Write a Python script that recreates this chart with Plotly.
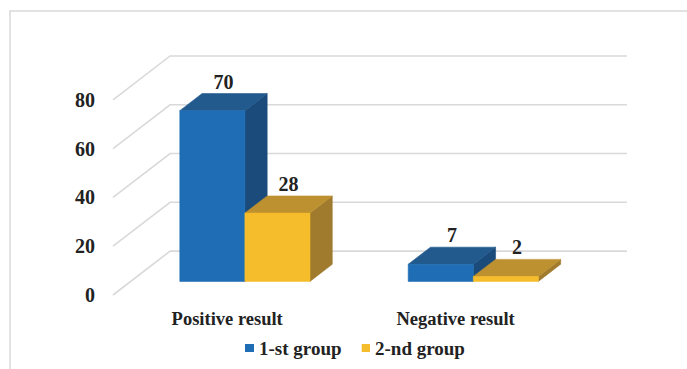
import plotly.graph_objects as go

# ---------------- data ----------------
categories = ["Positive result", "Negative result"]
series_names = ["1-st group", "2-nd group"]
group1_values = [70, 7]
group2_values = [28, 2]
y_tick_values = [0, 20, 40, 60, 80]

series_values = [group1_values, group2_values]

# ---------------- styles ----------------
front_colors = ["#1F6DB4", "#F5BC2C"]
top_colors = ["#225A8E", "#BD9130"]
side_colors = ["#1B4B7B", "#A07B2D"]
grid_color = "#D9D9D9"
text_color = "#222222"
FONT = "Liberation Serif, Times New Roman, serif"

W, H = 687, 369
DX, DY = 0.25, 18.0      # depth of the 3-D box, in axis units
D0, D1 = 0.31, 0.70      # bar depth span (fraction of box depth)
BAR_W = 0.285            # bar width in category units

# pixel layout
ML, MR, MT, MB = 102, 49, 54, 72
X0_PX, X_SCALE = 113, 228.4     # front-plane x=-0.5 position and px/unit
Y0_PX, Y_SCALE = 295, 2.439     # front-plane y=0 position and px/unit
pw, ph = W - ML - MR, H - MT - MB
x_min = -0.5 - (X0_PX - ML) / X_SCALE
x_max = x_min + pw / X_SCALE
y_min = -((H - MB) - Y0_PX) / Y_SCALE
y_max = y_min + ph / Y_SCALE


def paper_x(px):
    return (px - ML) / pw


def paper_y(py):
    return ((H - MB) - py) / ph


fig = go.Figure()

# ---------------- gridlines (side wall + back wall) ----------------
gx, gy = [], []
n_cat = len(categories)
for v in y_tick_values:
    gx += [-0.5, -0.5 + DX, n_cat - 0.5 + DX, None]
    gy += [v, v + DY, v + DY, None]
fig.add_trace(go.Scatter(x=gx, y=gy, mode="lines",
                         line=dict(color=grid_color, width=1.6),
                         hoverinfo="skip", showlegend=False))


def poly(xs, ys, color):
    fig.add_trace(go.Scatter(x=xs + [xs[0]], y=ys + [ys[0]], mode="lines",
                             fill="toself", fillcolor=color,
                             line=dict(color=color, width=0.6),
                             hoverinfo="skip", showlegend=False))


# ---------------- 3-D bars ----------------
label_x, label_y, label_t = [], [], []
for i, cat in enumerate(categories):
    for s, vals in enumerate(series_values):
        v = vals[i]
        xl = i - BAR_W + s * BAR_W
        xr = xl + BAR_W
        f0x, f0y = D0 * DX, D0 * DY
        f1x, f1y = D1 * DX, D1 * DY
        # right side face
        poly([xr + f0x, xr + f1x, xr + f1x, xr + f0x],
             [f0y, f1y, v + f1y, v + f0y], side_colors[s])
        # top face
        poly([xl + f0x, xl + f1x, xr + f1x, xr + f0x],
             [v + f0y, v + f1y, v + f1y, v + f0y], top_colors[s])
        # front face
        poly([xl + f0x, xr + f0x, xr + f0x, xl + f0x],
             [f0y, f0y, v + f0y, v + f0y], front_colors[s])
        label_x.append(xl + BAR_W / 2 + (D0 + D1) / 2 * DX)
        label_y.append(v + f1y)
        label_t.append(str(v))

fig.add_trace(go.Scatter(x=label_x, y=label_y, text=label_t, mode="text",
                         textposition="top center",
                         textfont=dict(family=FONT, size=20, color=text_color,
                                       weight="bold"),
                         hoverinfo="skip", showlegend=False, cliponaxis=False))

# ---------------- legend (custom, tight spacing) ----------------
legend_sq = [(245, 254), (361.7, 370)]
legend_txt_x = [256.5, 372.5]
for s, name in enumerate(series_names):
    x0, x1 = legend_sq[s]
    fig.add_shape(type="rect", xref="paper", yref="paper",
                  x0=paper_x(x0), x1=paper_x(x1),
                  y0=paper_y(352), y1=paper_y(344),
                  fillcolor=front_colors[s], line=dict(width=0))
    fig.add_annotation(xref="paper", yref="paper",
                       x=paper_x(legend_txt_x[s]), y=paper_y(348),
                       xanchor="left", yanchor="middle", showarrow=False,
                       text=name,
                       font=dict(family=FONT, size=19, color=text_color,
                                 weight="bold"))

# chart frame (light border)
fig.add_shape(type="path", xref="paper", yref="paper",
              path=(f"M {paper_x(W + 10)} {paper_y(11)} "
                    f"L {paper_x(10)} {paper_y(11)} "
                    f"L {paper_x(10)} {paper_y(H + 10)}"),
              line=dict(color=grid_color, width=1.5))

fig.update_layout(
    width=W, height=H,
    margin=dict(l=ML, r=MR, t=MT, b=MB),
    paper_bgcolor="white", plot_bgcolor="white",
    showlegend=False,
    xaxis=dict(range=[x_min, x_max], showgrid=False, zeroline=False,
               showline=False, tickmode="array",
               tickvals=list(range(n_cat)), ticktext=categories,
               ticks="", ticklabelstandoff=8,
               tickfont=dict(family=FONT, size=18.5, color=text_color,
                             weight="bold")),
    yaxis=dict(range=[y_min, y_max], showgrid=False, zeroline=False,
               showline=False, tickmode="array", tickvals=y_tick_values,
               ticks="", ticklabelstandoff=6,
               tickfont=dict(family=FONT, size=20, color=text_color,
                             weight="bold")),
)

fig.write_html("out.html")
